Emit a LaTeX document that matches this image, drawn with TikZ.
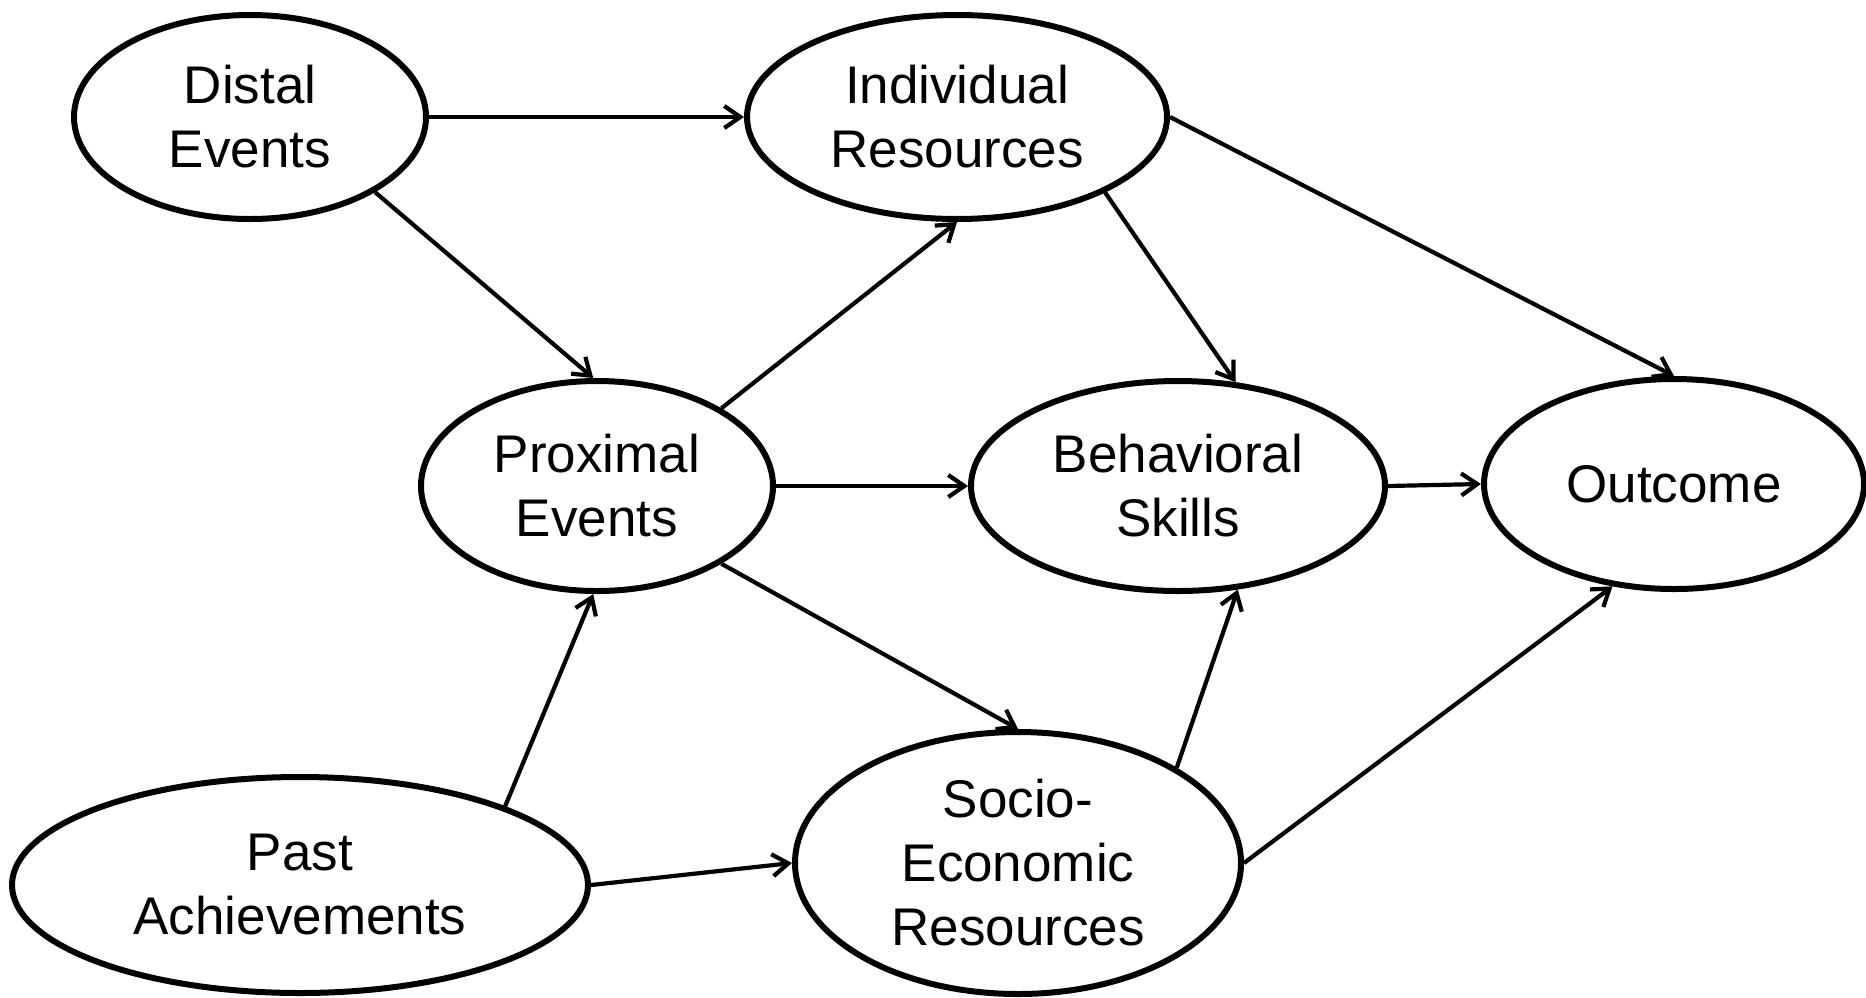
\documentclass[tikz,border=0pt]{standalone}
\usepackage{fontspec}
\setmainfont{Liberation Sans}
\usetikzlibrary{shapes.geometric,arrows.meta}
\tikzset{
  oval/.style={ellipse, draw=black, line width=3pt, inner sep=0pt, align=center,
    font=\fontsize{26.5}{32}\selectfont},
  link/.style={line width=2.1pt, -{Straight Barb[length=8pt,width=11pt,line width=2.1pt]}}
}
\begin{document}
\begin{tikzpicture}[x=0.5pt,y=-0.5pt]
\useasboundingbox (0,0) rectangle (1866,997);
\node[oval, minimum width=176pt, minimum height=102pt] (distal) at (250,117) {Distal\\Events};
\node[oval, minimum width=210pt, minimum height=102pt] (indiv) at (957,117) {Individual\\Resources};
\node[oval, minimum width=176pt, minimum height=105pt] (prox) at (597,486) {Proximal\\Events};
\node[oval, minimum width=207pt, minimum height=105pt] (behav) at (1178,486) {Behavioral\\Skills};
\node[oval, minimum width=190pt, minimum height=105pt] (outc) at (1674,484) {Outcome};
\node[oval, minimum width=288pt, minimum height=108pt] (past) at (300,885) {Past\\Achievements};
\node[oval, minimum width=223pt, minimum height=131pt] (socio) at (1018,863) {Socio-\\Economic\\Resources};

\draw[link] (distal.east) -- (indiv.west);
\draw[link] (distal.-31) -- (prox.92);
\draw[link] (indiv.east) -- (outc.north);
\draw[link] (indiv.-27) -- (behav.61);
\draw[link] (prox.32) -- (indiv.south);
\draw[link] (prox.east) -- (behav.west);
\draw[link] (prox.-32) -- (socio.north);
\draw[link] (behav.east) -- (outc.west);
\draw[link] (past.21) -- (prox.-92);
\draw[link] (past.east) -- (socio.west);
\draw[link] (socio.31) -- (behav.-60);
\draw[link] (socio.east) -- (outc.-121);
\end{tikzpicture}
\end{document}
